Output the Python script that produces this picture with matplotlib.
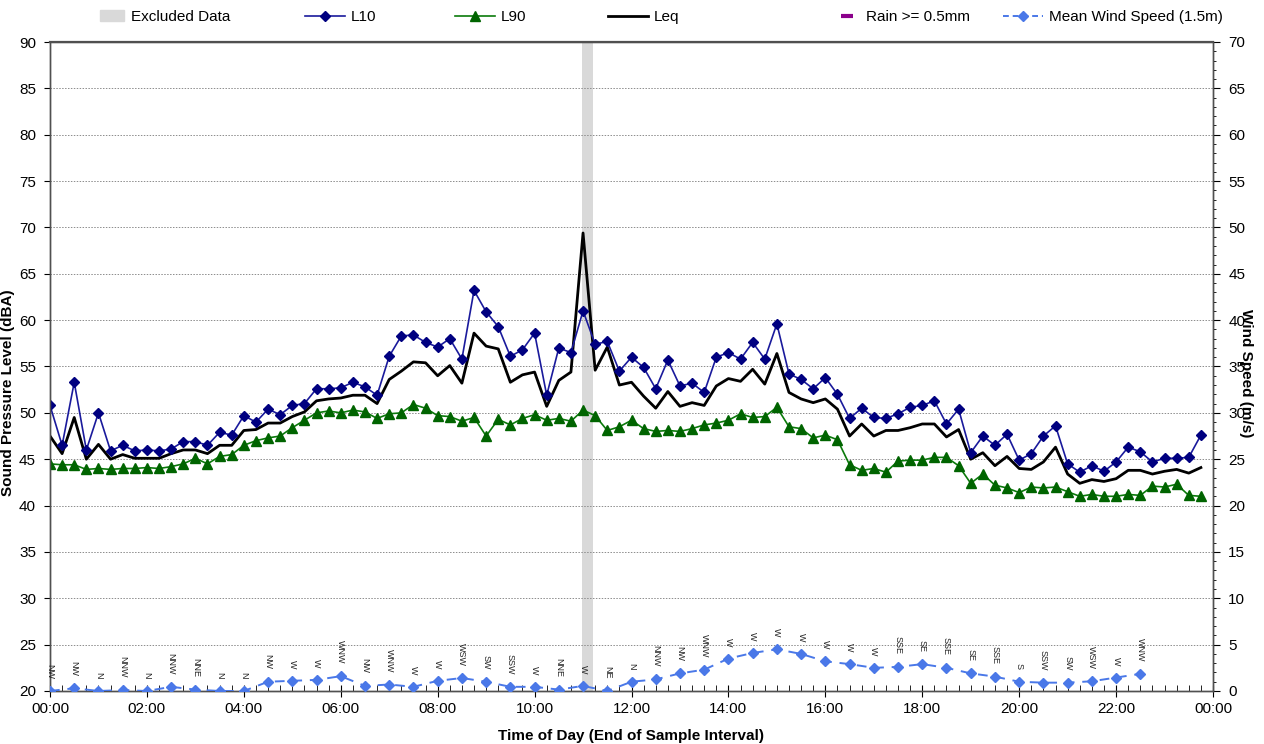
import matplotlib
matplotlib.use("Agg")
import matplotlib.pyplot as plt
from matplotlib.lines import Line2D
from matplotlib.patches import Patch
from matplotlib.ticker import MultipleLocator, FuncFormatter
import numpy as np

plt.rcParams["font.family"] = ["Liberation Sans", "DejaVu Sans"]

# ---- 15-minute noise statistics (dBA), 00:00 .. 23:45 ----------------
l10 = [50.8, 46.5, 53.3, 46.0, 50.0, 45.9, 46.5, 45.9, 46.0, 45.9, 46.1, 46.9,
       46.9, 46.5, 47.9, 47.6, 49.7, 49.0, 50.4, 49.8, 50.8, 51.0, 52.6, 52.6,
       52.7, 53.3, 52.8, 51.9, 56.1, 58.3, 58.4, 57.6, 57.1, 58.0, 55.8, 63.2,
       60.9, 59.3, 56.1, 56.8, 58.6, 51.9, 57.0, 56.5, 61.0, 57.4, 57.7, 54.5,
       56.0, 54.9, 52.6, 55.7, 52.9, 53.2, 52.2, 56.0, 56.5, 55.8, 57.6, 55.8,
       59.6, 54.2, 53.6, 52.6, 53.8, 52.0, 49.4, 50.5, 49.5, 49.4, 49.9, 50.6,
       50.8, 51.3, 48.8, 50.4, 45.7, 47.5, 46.5, 47.7, 44.9, 45.6, 47.5, 48.6,
       44.5, 43.6, 44.3, 43.7, 44.7, 46.3, 45.8, 44.7, 45.1, 45.1, 45.2, 47.6]
leq = [47.5, 45.6, 49.5, 45.0, 46.6, 45.0, 45.5, 45.1, 45.1, 45.1, 45.6, 46.0,
       46.0, 45.6, 46.5, 46.5, 48.1, 48.2, 48.9, 48.9, 49.6, 50.1, 51.3, 51.5,
       51.6, 51.9, 51.9, 51.0, 53.6, 54.5, 55.5, 55.4, 54.0, 55.1, 53.2, 58.6,
       57.2, 56.9, 53.3, 54.1, 54.4, 50.7, 53.5, 54.4, 69.4, 54.6, 57.1, 53.0,
       53.3, 51.8, 50.5, 52.3, 50.7, 51.1, 50.8, 52.9, 53.7, 53.4, 54.7, 53.1,
       56.4, 52.2, 51.5, 51.1, 51.5, 50.4, 47.5, 48.8, 47.5, 48.1, 48.1, 48.4,
       48.8, 48.8, 47.4, 48.2, 45.0, 45.7, 44.3, 45.3, 44.0, 43.9, 44.7, 46.3,
       43.4, 42.4, 42.8, 42.6, 42.9, 43.8, 43.8, 43.4, 43.7, 43.9, 43.5, 44.1]
l90 = [44.5, 44.4, 44.4, 43.9, 44.0, 43.9, 44.0, 44.0, 44.1, 44.0, 44.2, 44.5,
       45.1, 44.5, 45.3, 45.5, 46.5, 47.0, 47.3, 47.5, 48.4, 49.2, 50.0, 50.2,
       50.0, 50.3, 50.1, 49.4, 49.9, 50.0, 50.9, 50.5, 49.7, 49.6, 49.1, 49.5,
       47.5, 49.3, 48.7, 49.4, 49.8, 49.2, 49.4, 49.1, 50.3, 49.7, 48.1, 48.5,
       49.2, 48.3, 48.0, 48.1, 48.0, 48.3, 48.7, 48.9, 49.2, 49.9, 49.5, 49.6,
       50.6, 48.5, 48.3, 47.3, 47.6, 47.1, 44.4, 43.8, 44.0, 43.6, 44.8, 44.9,
       44.9, 45.2, 45.2, 44.3, 42.4, 43.4, 42.2, 41.9, 41.4, 42.0, 41.9, 42.0,
       41.5, 41.0, 41.2, 41.0, 41.0, 41.2, 41.1, 42.1, 42.0, 42.3, 41.1, 41.0]
noise_hours = np.arange(len(l10)) * 0.25

# ---- 30-minute wind at 1.5 m, 00:00 .. 22:30 ------------------------
wind_speed = [0.0, 0.3, 0.0, 0.1, 0.0, 0.45, 0.15, 0.0, 0.0, 1.0, 1.1, 1.2,
              1.6, 0.55, 0.7, 0.45, 1.1, 1.4, 1.0, 0.45, 0.45, 0.15, 0.55, 0.0,
              1.0, 1.25, 1.9, 2.3, 3.5, 4.1, 4.5, 4.0, 3.2, 2.9, 2.5, 2.6,
              2.9, 2.5, 1.9, 1.55, 1.0, 0.9, 0.9, 1.05, 1.45, 1.85]
wind_dir = ["NW", "NW", "N", "NNW", "N", "NNW", "NNE", "N", "N", "NW", "W", "W",
            "WNW", "NW", "WNW", "W", "W", "WSW", "SW", "SSW", "W", "NNE", "W", "NE",
            "N", "NNW", "NW", "WNW", "W", "W", "W", "W", "W", "W", "W", "SSE",
            "SE", "SSE", "SE", "SSE", "S", "SSW", "SW", "WSW", "W", "WNW"]
wind_hours = np.arange(len(wind_speed)) * 0.5

excluded = (10.97, 11.2)  # hours

C_L10 = "#1a1a9c"
C_L10_M = "#000080"
C_L90 = "#0b7a0b"
C_L90_M = "#006400"
C_WIND = "#4a78e8"
C_EXCL = "#d9d9d9"
C_RAIN = "#8b008b"

fig = plt.figure(figsize=(12.64, 7.44), dpi=100)
ax = fig.add_axes([50 / 1264, 1 - 691 / 744, 1163 / 1264, 649 / 744])
ax2 = ax.twinx()

ax.axvspan(*excluded, color=C_EXCL, lw=0, zorder=0)
ax.yaxis.grid(True, color="#8c8c8c", ls=(0, (1.5, 1.5)), lw=0.7)
ax.set_axisbelow(True)

ax.plot(noise_hours, leq, color="black", lw=2, zorder=3)
ax.plot(noise_hours, l10, color=C_L10, lw=1.2, marker="D", ms=5.5,
        mfc=C_L10_M, mec=C_L10_M, zorder=4)
ax.plot(noise_hours, l90, color=C_L90, lw=1.2, marker="^", ms=6.5,
        mfc=C_L90_M, mec=C_L90_M, zorder=4)

ax2.plot(wind_hours, wind_speed, color=C_WIND, lw=1.4, ls=(0, (5, 4)),
         marker="D", ms=5.5, mfc=C_WIND, mec=C_WIND, zorder=4)
for t, v, d in zip(wind_hours, wind_speed, wind_dir):
    ax2.annotate(d, (t, v), xytext=(0, 9), textcoords="offset points",
                 rotation=270, ha="center", va="bottom", fontsize=6.5,
                 color="#222222")

ax.set_xlim(0, 24)
ax.set_ylim(20, 90)
ax2.set_ylim(0, 70)
ax.xaxis.set_major_locator(MultipleLocator(2))
ax.xaxis.set_minor_locator(MultipleLocator(0.25))
ax.xaxis.set_major_formatter(FuncFormatter(lambda h, _: f"{int(h) % 24:02d}:00"))
ax.yaxis.set_major_locator(MultipleLocator(5))
ax2.yaxis.set_major_locator(MultipleLocator(5))
ax2.yaxis.set_minor_locator(MultipleLocator(1))

ax.tick_params(axis="x", which="major", direction="inout", length=8,
               labelsize=11, pad=4)
ax.tick_params(axis="x", which="minor", direction="in", length=4)
ax.tick_params(axis="y", which="major", direction="out", length=4,
               labelsize=11, pad=6)
ax2.tick_params(axis="y", which="major", direction="out", length=5,
                labelsize=11, pad=6)
ax2.tick_params(axis="y", which="minor", direction="out", length=2.5)

for a in (ax, ax2):
    for s in a.spines.values():
        s.set_color("#505050")
        s.set_linewidth(1.0)
ax.spines["top"].set_linewidth(1.6)

ax.set_xlabel("Time of Day (End of Sample Interval)", fontsize=11,
              fontweight="bold")
ax.xaxis.set_label_coords(0.5, -0.058)
ax.set_ylabel("Sound Pressure Level (dBA)", fontsize=11, fontweight="bold")
ax.yaxis.set_label_coords(-0.03, 0.46)
ax2.set_ylabel("Wind Speed (m/s)", fontsize=11, fontweight="bold",
               rotation=270, va="center")
ax2.yaxis.set_label_coords(1.028, 0.49)

# legend row across the top, one entry per anchor
legend_items = [
    (Patch(color=C_EXCL), "Excluded Data", 100, 1.6),
    (Line2D([], [], color=C_L10, lw=1.2, marker="D", ms=5.5, mfc=C_L10_M,
            mec=C_L10_M), "L10", 305, 2.6),
    (Line2D([], [], color=C_L90, lw=1.2, marker="^", ms=6.5, mfc=C_L90_M,
            mec=C_L90_M), "L90", 455, 2.6),
    (Line2D([], [], color="black", lw=2), "Leq", 608, 2.6),
    (Line2D([], [], color=C_RAIN, ls="none", marker="_", ms=8, mew=3),
     "Rain >= 0.5mm", 835, 1.6),
    (Line2D([], [], color=C_WIND, lw=1.4, ls=(0, (3, 2)), marker="D", ms=5,
            mfc=C_WIND, mec=C_WIND), "Mean Wind Speed (1.5m)", 1003, 2.6),
]
for handle, label, x0, hl in legend_items:
    fig.legend(handles=[handle], labels=[label], loc="center left",
               bbox_to_anchor=(x0 / 1264, 1 - 17 / 744), frameon=False,
               fontsize=11, handlelength=hl, handleheight=0.7,
               handletextpad=0.4, borderpad=0, borderaxespad=0)

fig.savefig("out.png", dpi=100)
